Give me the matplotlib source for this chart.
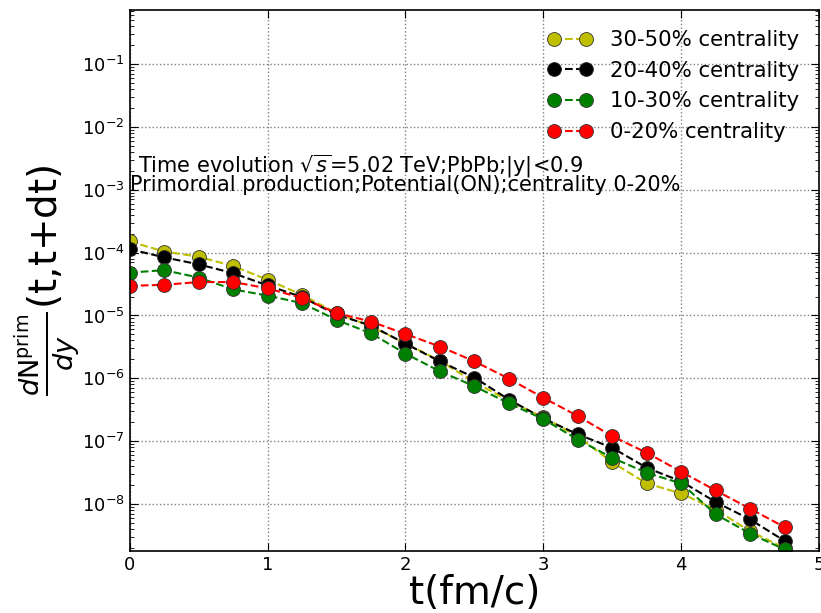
import numpy as np
import matplotlib
matplotlib.use('Agg')
import matplotlib.pyplot as plt

t = [0.0, 0.25, 0.5, 0.75, 1.0, 1.25, 1.5, 1.75, 2.0, 2.25,
     2.5, 2.75, 3.0, 3.25, 3.5, 3.75, 4.0, 4.25, 4.5, 4.75]

cent_30_50 = [1.5e-4, 1.04e-4, 8.6e-5, 6.1e-5, 3.7e-5, 2.13e-5, 1.09e-5, 6.7e-6, 3.6e-6, 1.9e-6,
              8.7e-7, 4.4e-7, 2.4e-7, 1.2e-7, 4.6e-8, 2.13e-8, 1.48e-8, 8.2e-9, 3.7e-9, 2.0e-9]
cent_20_40 = [1.13e-4, 8.4e-5, 6.5e-5, 4.7e-5, 3.0e-5, 1.96e-5, 1.03e-5, 6.9e-6, 3.56e-6, 1.86e-6,
              1.03e-6, 4.6e-7, 2.3e-7, 1.29e-7, 7.85e-8, 3.78e-8, 2.3e-8, 1.08e-8, 5.7e-9, 2.6e-9]
cent_10_30 = [4.8e-5, 5.25e-5, 4.0e-5, 2.6e-5, 2.07e-5, 1.57e-5, 8.5e-6, 5.2e-6, 2.47e-6, 1.29e-6,
              7.5e-7, 4.0e-7, 2.25e-7, 1.06e-7, 5.45e-8, 3.15e-8, 2.13e-8, 6.9e-9, 3.4e-9, 1.9e-9]
cent_0_20 = [2.96e-5, 3.07e-5, 3.4e-5, 3.4e-5, 2.7e-5, 1.89e-5, 1.09e-5, 8.0e-6, 5.07e-6, 3.2e-6,
             1.86e-6, 9.9e-7, 4.9e-7, 2.52e-7, 1.2e-7, 6.55e-8, 3.27e-8, 1.65e-8, 8.45e-9, 4.3e-9]

labels = ['30-50% centrality', '20-40% centrality', '10-30% centrality', '0-20% centrality']
colors = ['y', 'k', 'g', 'r']

fig = plt.figure(figsize=(8.21, 6.13), dpi=100)
ax = fig.add_axes([0.158, 0.1017, 0.8397, 0.882])

for vals, lab, c in zip([cent_30_50, cent_20_40, cent_10_30, cent_0_20], labels, colors):
    ax.plot(t, vals, linestyle='--', color=c, marker='o', markersize=10,
            markerfacecolor=c, markeredgecolor='#333333', markeredgewidth=0.6,
            label=lab)

ax.set_yscale('log')
ax.set_xlim(0, 5)
ax.set_ylim(1.82e-9, 0.72)
ax.set_xticks([0, 1, 2, 3, 4, 5])
ax.grid(True, which='major', linestyle=':', color='gray', linewidth=1)
ax.tick_params(which='both', direction='in', top=True, right=True, labelsize=13)
ax.tick_params(which='major', length=6)
ax.tick_params(which='minor', length=3)
for s in ax.spines.values():
    s.set_linewidth(1.2)

ax.text(0.06, 1.9e-3, r'Time evolution $\sqrt{s}$=5.02 TeV;PbPb;|y|<0.9', fontsize=15)
ax.text(0.0, 9.5e-4, 'Primordial production;Potential(ON);centrality 0-20%', fontsize=15)

ax.set_xlabel('t(fm/c)', fontsize=28, labelpad=0)
ax.set_ylabel(r'$\frac{d\mathrm{N}^{\mathrm{prim}}}{dy}$(t,t+dt)', fontsize=28, labelpad=0)

ax.legend(loc='upper right', frameon=False, fontsize=15.3, numpoints=2,
          handlelength=2.1, labelspacing=0.5, borderaxespad=0.55)

fig.savefig('out.png', dpi=100)
